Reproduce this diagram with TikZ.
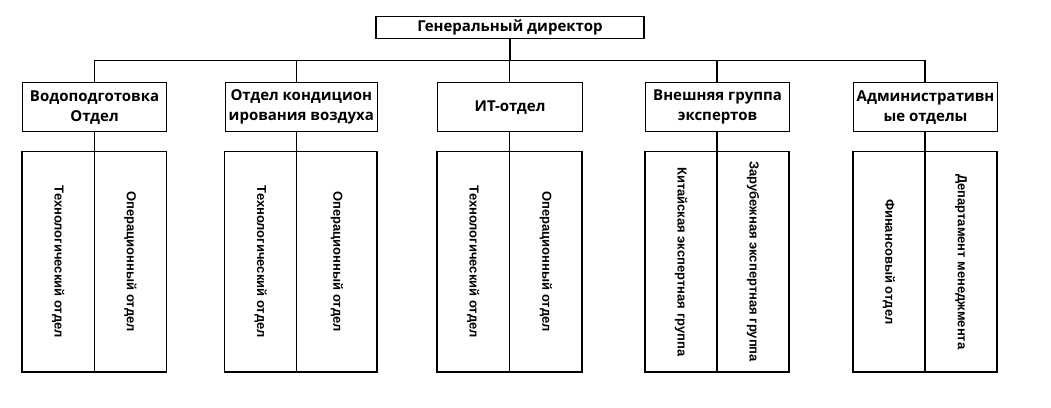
\documentclass[tikz,border=0pt]{standalone}
\usepackage{fontspec}
\setmainfont{Open Sans}
\newfontfamily\subfont{Liberation Sans}
\usetikzlibrary{positioning}

\begin{document}
\begin{tikzpicture}[x=1pt, y=-1pt,
  line width=1.1pt,
  dirbox/.style={draw, minimum width=268, minimum height=22, inner sep=0pt,
                 font=\fontsize{15}{17}\selectfont\bfseries},
  deptbox/.style={draw, minimum height=48.7, inner sep=0pt, align=center,
                  font=\fontsize{15}{20}\selectfont\bfseries},
  subbox/.style={draw, minimum height=220.5, inner sep=0pt, outer sep=0pt,
                 font=\subfont\fontsize{13}{15}\selectfont\bfseries},
  link/.style={line width=1.1pt}]
\useasboundingbox (0,0) rectangle (1051,407);
% director
\node[dirbox] (dir) at (510,27.3) {Генеральный директор};
\coordinate (bus) at (0,60.3);
% departments
\node[deptbox, minimum width=144, anchor=north west] (wat) at (22,82.3) {Водоподготовка\\Отдел};
\node[deptbox, minimum width=152.5, anchor=north west] (air) at (224.5,82.3) {Отдел кондицион\\ирования воздуха};
\node[deptbox, minimum width=145, anchor=north west] (it) at (437,82.3) {ИТ-отдел};
\node[deptbox, minimum width=144, anchor=north west] (ext) at (645,82.3) {Внешняя группа\\экспертов};
\node[deptbox, minimum width=144, anchor=north west] (adm) at (853,82.3) {Административн\\ые отделы};
% sub-units
\node[subbox, minimum width=72.25, anchor=north west] (wat-l) at (22,151.5) {\rotatebox{-90}{Технологический отдел}};
\node[subbox, minimum width=72.25, anchor=north west] (wat-r) at (wat-l.north east) {\rotatebox{-90}{Операционный отдел}};
\node[subbox, minimum width=72.3, anchor=north west] (air-l) at (224.5,151.5) {\rotatebox{-90}{Технологический отдел}};
\node[subbox, minimum width=80.2, anchor=north west] (air-r) at (air-l.north east) {\rotatebox{-90}{Операционный отдел}};
\node[subbox, minimum width=72.5, anchor=north west] (it-l) at (437,151.5) {\rotatebox{-90}{Технологический отдел}};
\node[subbox, minimum width=72.5, anchor=north west] (it-r) at (it-l.north east) {\rotatebox{-90}{Операционный отдел}};
\node[subbox, minimum width=72, anchor=north west] (ext-l) at (645,151.5) {\rotatebox{-90}{Китайская экспертная группа}};
\node[subbox, minimum width=72, anchor=north west] (ext-r) at (ext-l.north east) {\rotatebox{-90}{Зарубежная экспертная группа}};
\node[subbox, minimum width=72, anchor=north west] (adm-l) at (853,151.5) {\rotatebox{-90}{Финансовый отдел}};
\node[subbox, minimum width=72, anchor=north west] (adm-r) at (adm-l.north east) {\rotatebox{-90}{Департамент менеджмента}};
% connectors
\draw[link] (dir.south) -- (dir.south |- bus);
\draw[link] (wat-l.north east |- bus) -- (adm-l.north east |- bus);
\foreach \d in {wat,air,it,ext,adm} {
  \draw[link] (\d-l.north east |- bus) -- (\d-l.north east |- \d.north);
  \draw[link] (\d-l.north east |- \d.south) -- (\d-l.north east);
}
\end{tikzpicture}
\end{document}
